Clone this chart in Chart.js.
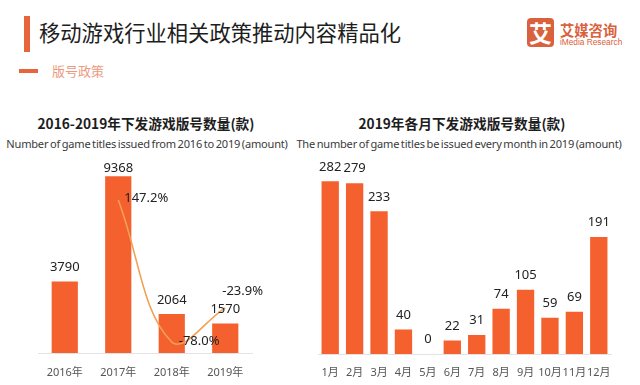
<!DOCTYPE html>
<html><head><meta charset="utf-8">
<script src="https://cdn.jsdelivr.net/npm/chart.js@4/dist/chart.umd.min.js"></script>
<style>
html,body{margin:0;padding:0;background:#fff;width:640px;height:385px;overflow:hidden;font-family:"Noto Sans","Noto Sans CJK SC",sans-serif;}
.abs{position:absolute;white-space:nowrap;}
#vbar{left:24px;top:16px;width:6px;height:36px;background:#E8643C;}
#title{left:39px;top:18px;font-size:21.3px;line-height:28px;color:#1d1d1d;font-family:"Noto Sans CJK SC",sans-serif;}
#dash{left:19px;top:69px;width:19px;height:4px;background:#E8643C;}
#sub{left:52px;top:62px;font-size:13px;line-height:18px;color:#EC9A7E;font-family:"Noto Sans CJK SC",sans-serif;}
#logo{left:527px;top:18px;width:27px;height:29px;background:#D9613D;border-radius:4px;color:#fff;font-size:23px;line-height:29px;text-align:center;font-weight:bold;font-family:"Noto Sans CJK SC",sans-serif;}
#logot{left:560px;top:20px;font-size:14.3px;line-height:20px;color:#D9613D;font-weight:bold;font-family:"Noto Sans CJK SC",sans-serif;}
#logoe{left:560px;top:37px;font-size:8.3px;line-height:10px;color:#D9613D;font-family:"Liberation Sans Narrow","Liberation Sans",sans-serif;}
.ct{font-size:13.7px;font-weight:bold;color:#1d1d1d;line-height:20px;font-family:"Noto Sans CJK SC",sans-serif;transform:translateX(-50%);}
.cs{font-size:11.05px;color:#3a3a3a;line-height:14px;transform:translateX(-50%);letter-spacing:-0.2px;word-spacing:-1px;}
canvas{position:absolute;}
</style></head><body>
<div id="vbar" class="abs"></div>
<div id="title" class="abs">移动游戏行业相关政策推动内容精品化</div>
<div id="dash" class="abs"></div>
<div id="sub" class="abs">版号政策</div>
<div id="logo" class="abs">艾</div>
<div id="logot" class="abs">艾媒咨询</div>
<div id="logoe" class="abs">iMedia Research</div>
<div class="abs ct" style="left:146px;top:113px;">2016-2019年下发游戏版号数量(款)</div>
<div class="abs cs" style="left:147px;top:137px;">Number of game titles issued from 2016 to 2019 (amount)</div>
<div class="abs ct" style="left:462px;top:113px;">2019年各月下发游戏版号数量(款)</div>
<div class="abs cs" style="left:459px;top:137px;">The number of game titles be issued every month in 2019 (amount)</div>
<canvas id="c1" width="290" height="235" style="left:0;top:150px;"></canvas>
<canvas id="c2" width="350" height="235" style="left:290px;top:150px;"></canvas>
<script>
const years = ["2016年","2017年","2018年","2019年"];
const yearTitles = [3790, 9368, 2064, 1570];
const yearGrowth = [null, 147.2, -78.0, -23.9];
const growthLabels = ["", "147.2%", "-78.0%", "-23.9%"];
const months = ["1月","2月","3月","4月","5月","6月","7月","8月","9月","10月","11月","12月"];
const monthTitles = [282, 279, 233, 40, 0, 22, 31, 74, 105, 59, 69, 191];

const BAR = "#F4612F";
const LINE = "#F2A053";
const FONT = '"Noto Sans","Noto Sans CJK SC",sans-serif';

const labelPlugin = {
  id: 'vlabels',
  afterDatasetsDraw(chart, args, opts) {
    const ctx = chart.ctx;
    ctx.save();
    ctx.font = '13px ' + FONT;
    ctx.fillStyle = '#222';
    ctx.textBaseline = 'middle';
    chart.data.datasets.forEach((ds, di) => {
      const meta = chart.getDatasetMeta(di);
      meta.data.forEach((el, i) => {
        const v = ds.data[i];
        if (v === null || v === undefined) return;
        if (ds.type === 'line') {
          const off = opts.lineOffsets[i];
          ctx.textAlign = 'left';
          ctx.fillText(ds.labels[i], el.x + off[0], el.y + off[1]);
        } else {
          ctx.textAlign = 'center';
          const y = Math.max(el.y - opts.barGap, opts.minY);
          ctx.fillText(String(v), el.x, y);
        }
      });
    });
    ctx.restore();
  }
};

const xAxis = (pad, h) => ({
  grid: {display: false, drawTicks: false},
  border: {display: true, color: '#e3e3e3', width: 1},
  ticks: {color: '#555', font: {size: 11, family: FONT}, padding: pad, autoSkip: false, maxRotation: 0},
  afterFit: (s) => { s.height = h; }
});

new Chart(document.getElementById('c1'), {
  data: {
    labels: years,
    datasets: [
      {type: 'line', data: yearGrowth, labels: growthLabels, yAxisID: 'y1', borderColor: LINE, borderWidth: 1.6,
       pointRadius: 0, tension: 0.4, spanGaps: false, order: 0},
      {type: 'bar', data: yearTitles, yAxisID: 'y', backgroundColor: BAR, categoryPercentage: 1, barPercentage: 0.49, order: 1}
    ]
  },
  options: {
    responsive: false, animation: false, devicePixelRatio: 1,
    layout: {padding: {left: 38, right: 38, top: 14.4, bottom: 5.9}},
    plugins: {legend: {display: false}, tooltip: {enabled: false},
      vlabels: {barGap: 14, minY: 18, lineOffsets: [[0,0],[6,-2],[7,-1],[-3,-17]]}},
    scales: {
      x: xAxis(12.9, 26.1),
      y: {display: false, min: 0, max: 10000},
      y1: {display: false, min: -95.4, max: 203.7}
    }
  },
  plugins: [labelPlugin]
});

new Chart(document.getElementById('c2'), {
  data: {
    labels: months,
    datasets: [
      {type: 'bar', data: monthTitles, backgroundColor: BAR, categoryPercentage: 1, barPercentage: 0.71}
    ]
  },
  options: {
    responsive: false, animation: false, devicePixelRatio: 1,
    layout: {padding: {left: 28, right: 29, top: 20.3, bottom: 5.4}},
    plugins: {legend: {display: false}, tooltip: {enabled: false},
      vlabels: {barGap: 14.5, minY: 0, lineOffsets: []}},
    scales: {
      x: xAxis(12.4, 25.6),
      y: {display: false, min: 0, max: 300}
    }
  },
  plugins: [labelPlugin]
});
</script>
</body></html>
